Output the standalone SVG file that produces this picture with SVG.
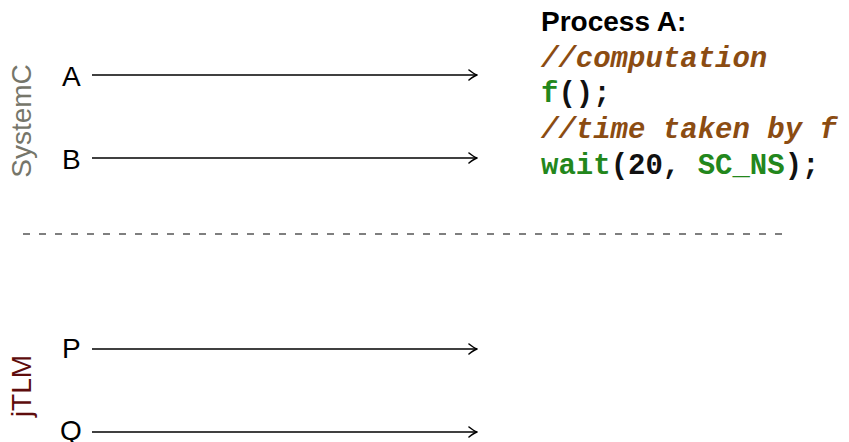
<svg xmlns="http://www.w3.org/2000/svg" width="849" height="442" viewBox="0 0 849 442">
  <style>
    .lbl { font-family: "Liberation Sans", Arial, sans-serif; font-size: 28px; fill: #000; }
    .side { font-family: "Liberation Sans", Arial, sans-serif; font-size: 28px; text-anchor: middle; }
    .head { font-family: "Liberation Sans", Arial, sans-serif; font-size: 28px; font-weight: bold; fill: #000; }
    .code { font-family: "Liberation Mono", "Courier New", monospace; font-size: 29px; font-weight: bold; fill: #111; }
    .cmt { fill: #8b4c12; font-style: italic; }
    .kw { fill: #23871c; }
    .sig { stroke: #000; stroke-width: 1.6; fill: none; marker-end: url(#tip); }
    .sep { stroke: #000; stroke-width: 1.2; stroke-dasharray: 7 9; fill: none; }
  </style>
  <defs>
    <marker id="tip" viewBox="-10 -6 12 12" refX="0" refY="0" markerWidth="12" markerHeight="12" markerUnits="userSpaceOnUse" orient="auto">
      <path d="M-8,-5 Q-3,-1 0,0 Q-3,1 -8,5" fill="none" stroke="#000" stroke-width="1.6" stroke-linecap="round" stroke-linejoin="round"/>
    </marker>
  </defs>
  <rect width="849" height="442" fill="#fff"/>

  <!-- domain labels -->
  <g id="systemc">
    <text class="side" fill="#76766a" transform="translate(31,121) rotate(-90)">SystemC</text>
  </g>
  <g id="jtlm">
    <text class="side" fill="#5e0c0c" transform="translate(31,386) rotate(-90)">jTLM</text>
  </g>

  <!-- signal names -->
  <g id="sigA"><text class="lbl" x="62" y="86">A</text></g>
  <g id="sigB"><text class="lbl" x="62" y="169">B</text></g>
  <g id="sigP"><text class="lbl" x="62" y="358">P</text></g>
  <g id="sigQ"><text class="lbl" x="60" y="440">Q</text></g>

  <!-- signal timelines and separator -->
  <g id="connectors">
    <line class="sig" x1="92" y1="75" x2="477" y2="75"/>
    <line class="sig" x1="92" y1="158" x2="477" y2="158"/>
    <line class="sig" x1="92" y1="349" x2="477" y2="349"/>
    <line class="sig" x1="92" y1="432" x2="477" y2="432"/>
    <line class="sep" x1="23" y1="234" x2="784" y2="234"/>
  </g>

  <!-- process code listing -->
  <g id="processA">
    <text class="head" x="541" y="31">Process A:</text>
    <text class="code cmt" x="541" y="67">//computation</text>
    <text class="code" x="541" y="102"><tspan class="kw">f</tspan>();</text>
    <text class="code cmt" x="541" y="138">//time taken by f</text>
    <text class="code" x="541" y="174"><tspan class="kw">wait</tspan>(20, <tspan class="kw">SC_NS</tspan>);</text>
  </g>
</svg>
